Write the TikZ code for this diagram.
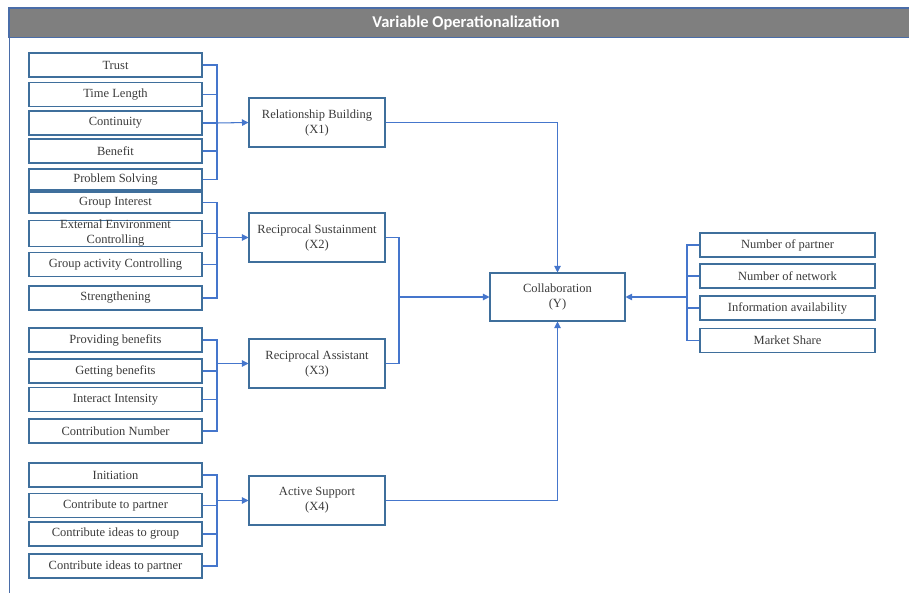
\documentclass[tikz,border=0pt]{standalone}
\usepackage{fontspec}
\setmainfont{Liberation Serif}
\newfontfamily\headfont{Carlito}
\usetikzlibrary{arrows.meta}
\definecolor{boxc}{HTML}{3F6F9C}
\definecolor{linec}{HTML}{4576CC}
\definecolor{headc}{HTML}{7F7F7F}
\definecolor{framec}{HTML}{4A6DA8}
\definecolor{txtc}{HTML}{3A3A3A}
\begin{document}
\begin{tikzpicture}[x=1pt,y=-1pt,
  ibox/.style={draw=boxc,line width=1.05pt,text=txtc,font=\fontsize{12.5}{13}\selectfont,
    minimum width=173pt,minimum height=24pt,inner sep=0pt,align=center},
  xbox/.style={draw=boxc,line width=1.05pt,text=txtc,font=\fontsize{12.5}{15}\selectfont,
    minimum width=136pt,minimum height=49pt,inner sep=0pt,align=center},
  conn/.style={draw=linec,line width=1.05pt},
  arr/.style={conn,-{Triangle[length=6.5pt,width=6.5pt]}},
  frameline/.style={draw=framec,line width=1.2pt}]
\useasboundingbox (0,0) rectangle (909,593);
% header and frame
\node (head) [fill=headc,draw=framec,line width=1.2pt,minimum width=914pt,minimum height=29.5pt,
  inner sep=0pt,text=white,font=\headfont\bfseries\fontsize{16.5}{18}\selectfont] at (466,22.75) {Variable Operationalization};
\draw[frameline] (9.5,37.5) -- (9.5,593);
% group 1
\node[ibox] (t1) at (115.5,65) {Trust};
\node[ibox] (t2) at (115.5,94.5) {Time Length};
\node[ibox] (t3) at (115.5,123) {Continuity};
\node[ibox] (t4) at (115.5,151) {Benefit};
\node[ibox,minimum height=21pt] (t5) at (115.5,179.5) {Problem Solving};
% group 2
\node[ibox,minimum height=21pt] (g1) at (115.5,202.5) {Group Interest};
\node[ibox,minimum height=25pt,font=\fontsize{12.5}{15}\selectfont] (g2) at (115.5,233.5) {External Environment\\Controlling};
\node[ibox] (g3) at (115.5,264.5) {Group activity Controlling};
\node[ibox] (g4) at (115.5,298) {Strengthening};
% group 3
\node[ibox] (p1) at (115.5,340) {Providing benefits};
\node[ibox] (p2) at (115.5,371) {Getting benefits};
\node[ibox] (p3) at (115.5,399.5) {Interact Intensity};
\node[ibox] (p4) at (115.5,431) {Contribution Number};
% group 4
\node[ibox] (a1) at (115.5,475) {Initiation};
\node[ibox] (a2) at (115.5,505.5) {Contribute to partner};
\node[ibox] (a3) at (115.5,534) {Contribute ideas to group};
\node[ibox] (a4) at (115.5,566) {Contribute ideas to partner};
% X boxes
\node[xbox] (x1) at (317,122.5) {Relationship Building\\(X1)};
\node[xbox] (x2) at (317,237.5) {Reciprocal Sustainment\\(X2)};
\node[xbox] (x3) at (317,363.5) {Reciprocal Assistant\\(X3)};
\node[xbox] (x4) at (317,500.5) {Active Support\\(X4)};
% collaboration
\node[xbox,minimum width=135pt,minimum height=48pt] (co) at (557.5,297) {Collaboration\\(Y)};
% right boxes
\node[ibox,minimum width=175pt] (r1) at (787.5,245) {Number of partner};
\node[ibox,minimum width=175pt] (r2) at (787.5,276) {Number of network};
\node[ibox,minimum width=175pt] (r3) at (787.5,308) {Information availability};
\node[ibox,minimum width=175pt] (r4) at (787.5,340.5) {Market Share};
% junctions
\coordinate (j1) at (217,123);
\coordinate (j2) at (217,237.5);
\coordinate (j3) at (217,363.5);
\coordinate (j4) at (217,500.5);
\coordinate (j5) at (399,297);
\coordinate (j6) at (687,297);
% left connectors
\foreach \n in {t1,t2,t3,t4,t5} \draw[conn] (\n.east) -| (j1);
\foreach \n in {g1,g2,g3,g4} \draw[conn] (\n.east) -| (j2);
\foreach \n in {p1,p2,p3,p4} \draw[conn] (\n.east) -| (j3);
\foreach \n in {a1,a2,a3,a4} \draw[conn] (\n.east) -| (j4);
\draw[arr] (j1) -- (x1.west);
\draw[arr] (j2) -- (x2.west);
\draw[arr] (j3) -- (x3.west);
\draw[arr] (j4) -- (x4.west);
% to collaboration
\draw[arr] (x1.east) -| (co.north);
\draw[conn] (x2.east) -| (j5);
\draw[conn] (x3.east) -| (j5);
\draw[arr] (j5) -- (co.west);
\draw[arr] (x4.east) -| (co.south);
% right connectors
\foreach \n in {r1,r2,r3,r4} \draw[conn] (\n.west) -| (j6);
\draw[arr] (j6) -- (co.east);
\end{tikzpicture}
\end{document}
